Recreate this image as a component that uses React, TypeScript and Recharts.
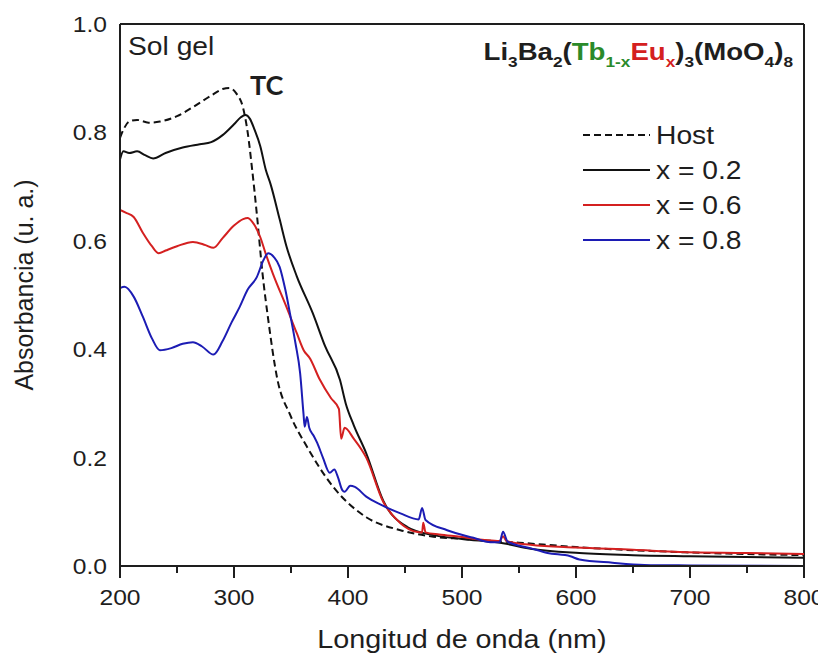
import React from 'react';
import { LineChart, Line, XAxis, YAxis, ReferenceLine, Legend, Label } from 'recharts';

// longitudes de onda (nm) y absorbancias
const hostWl = [200, 203, 208, 215, 225, 235, 250, 265, 280, 290, 296, 302, 308, 312, 316, 320, 325, 330, 338, 349, 364, 387, 416, 446, 475, 500, 550, 600, 700, 800];
const hostAbs = [0.79, 0.805, 0.82, 0.823, 0.818, 0.82, 0.83, 0.848, 0.868, 0.88, 0.882, 0.872, 0.845, 0.8, 0.73, 0.65, 0.54, 0.455, 0.345, 0.28, 0.22, 0.146, 0.09, 0.066, 0.054, 0.05, 0.043, 0.035, 0.025, 0.02];

const x02Wl = [200, 203, 208, 215, 222, 229, 240, 255, 270, 280, 290, 300, 306, 310, 314, 318, 323, 328, 332, 340, 346, 355, 369, 380, 393, 398, 405, 416, 431, 452, 475, 500, 536, 560, 603, 650, 700, 800];
const x02Abs = [0.75, 0.765, 0.762, 0.765, 0.758, 0.752, 0.762, 0.772, 0.778, 0.782, 0.795, 0.815, 0.828, 0.832, 0.825, 0.805, 0.775, 0.73, 0.705, 0.64, 0.59, 0.535, 0.467, 0.405, 0.343, 0.3, 0.26, 0.208, 0.12, 0.072, 0.057, 0.05, 0.042, 0.032, 0.024, 0.02, 0.018, 0.015];

const x06Wl = [200, 205, 212, 220, 228, 234, 240, 250, 264, 275, 282, 290, 300, 308, 312, 316, 323, 328, 334, 346, 355, 362, 364, 366, 375, 385, 392, 394, 397, 405, 416, 431, 446, 460, 465, 466, 468, 480, 498, 520, 533, 536, 539, 560, 600, 650, 691, 750, 800];
const x06Abs = [0.657, 0.652, 0.644, 0.615, 0.59, 0.577, 0.582, 0.59, 0.598, 0.592, 0.587, 0.605, 0.628, 0.64, 0.642, 0.635, 0.607, 0.575, 0.54, 0.478, 0.43, 0.395, 0.39, 0.385, 0.345, 0.31, 0.29, 0.235, 0.255, 0.235, 0.2, 0.118, 0.079, 0.063, 0.062, 0.08, 0.062, 0.058, 0.054, 0.048, 0.046, 0.055, 0.046, 0.039, 0.034, 0.03, 0.026, 0.024, 0.022];

const x08Wl = [200, 204, 212, 220, 228, 235, 245, 255, 264, 272, 282, 290, 298, 305, 312, 320, 326, 330, 335, 340, 345, 349, 354, 358, 361, 362, 364, 366, 370, 373, 378, 384, 388, 391, 395, 397, 402, 406, 416, 430, 446, 462, 465, 468, 487, 510, 525, 533, 536, 540, 560, 575, 595, 603, 632, 660, 700, 800];
const x08Abs = [0.513, 0.515, 0.497, 0.46, 0.42, 0.398, 0.402, 0.41, 0.413, 0.405, 0.39, 0.415, 0.45, 0.478, 0.51, 0.533, 0.565, 0.577, 0.57, 0.552, 0.51, 0.467, 0.41, 0.356, 0.28, 0.257, 0.275, 0.255, 0.24, 0.227, 0.2, 0.172, 0.178, 0.165, 0.14, 0.137, 0.148, 0.146, 0.128, 0.112, 0.097, 0.086, 0.107, 0.085, 0.066, 0.052, 0.044, 0.044, 0.063, 0.045, 0.033, 0.024, 0.018, 0.012, 0.006, 0.002, 0.001, 0];

const xTicks = [200, 250, 300, 350, 400, 450, 500, 550, 600, 650, 700, 750, 800];
const yTicks = [0, 0.2, 0.4, 0.6, 0.8, 1.0];

const toPts = (wl: number[], abs: number[]) => wl.map((w, i) => ({ wl: w, abs: abs[i] }));

const series = [
  { name: 'Host', data: toPts(hostWl, hostAbs), color: '#111111', dash: '7 4' },
  { name: 'x = 0.2', data: toPts(x02Wl, x02Abs), color: '#111111', dash: undefined },
  { name: 'x = 0.6', data: toPts(x06Wl, x06Abs), color: '#d42020', dash: undefined },
  { name: 'x = 0.8', data: toPts(x08Wl, x08Abs), color: '#1c1cb4', dash: undefined },
];

const FONT = 'Arial, "Liberation Sans", sans-serif';
const INK = '#1e1e1e';

const XTick = (props: any) => {
  const { x, y, payload } = props;
  const major = payload.value % 100 === 0;
  return (
    <g>
      <line x1={x} x2={x} y1={y} y2={y + (major ? 12 : 7)} stroke={INK} strokeWidth={2} />
      {major && (
        <text transform={`translate(${x},${y + 39}) scale(1.12,1)`} textAnchor="middle" fontSize={22} fontFamily={FONT} fill={INK}>
          {payload.value}
        </text>
      )}
    </g>
  );
};

const YTick = (props: any) => {
  const { x, y, payload } = props;
  return (
    <text transform={`translate(${x - 13},${y + 8}) scale(1.12,1)`} textAnchor="end" fontSize={22} fontFamily={FONT} fill={INK}>
      {Number(payload.value).toFixed(1)}
    </text>
  );
};

// leyenda propia: linea + texto
const LegendBox = () => (
  <svg width={210} height={140}>
    {series.map((s, i) => {
      const cy = 17 + i * 35;
      return (
        <g key={s.name}>
          <line x1={0} x2={67} y1={cy} y2={cy} stroke={s.color} strokeWidth={2} strokeDasharray={s.dash} />
          <text transform={`translate(73,${cy + 9}) scale(1.13,1)`} fontSize={25} fontFamily={FONT} fill={INK}>{s.name}</text>
        </g>
      );
    })}
  </svg>
);

export default function App() {
  return (
    <div style={{ position: 'relative', width: 818, height: 648 }}>
      <LineChart width={818} height={648} data={series[0].data} margin={{ top: 16, right: 22, bottom: 0, left: 0 }}>
        <XAxis
          dataKey="wl"
          type="number"
          domain={[200, 800]}
          ticks={xTicks}
          interval={0}
          height={90}
          tickSize={0}
          tickMargin={0}
          tickLine={false}
          tick={<XTick />}
          axisLine={{ stroke: INK, strokeWidth: 2 }}
          allowDataOverflow
        >
          <Label
            content={(p: any) => {
              const vb = p.viewBox || {};
              return (
                <text transform={`translate(${vb.x + vb.width / 2},${vb.y + 82}) scale(1.15,1)`} textAnchor="middle" fontSize={25} fontFamily={FONT} fill={INK}>
                  Longitud de onda (nm)
                </text>
              );
            }}
          />
        </XAxis>
        <YAxis
          type="number"
          domain={[0, 1]}
          ticks={yTicks}
          interval={0}
          width={112}
          tickSize={0}
          tickMargin={0}
          tickLine={false}
          tick={<YTick />}
          axisLine={{ stroke: INK, strokeWidth: 2 }}
          allowDataOverflow
        >
          <Label
            content={() => (
              <text transform="translate(25,277) rotate(-90)" textAnchor="middle" fontSize={25} fontFamily={FONT} fill={INK}>
                Absorbancia (u. a.)
              </text>
            )}
          />
        </YAxis>
        <ReferenceLine y={1} stroke={INK} strokeWidth={2} />
        <ReferenceLine x={800} stroke={INK} strokeWidth={2} />
        <Legend
          layout="horizontal"
          verticalAlign="middle"
          align="center"
          content={() => <LegendBox />}
          wrapperStyle={{ left: 575, top: 110, width: 210, height: 140 }}
        />
        {series.map(s => (
          <Line
            key={s.name}
            data={s.data}
            dataKey="abs"
            name={s.name}
            type="monotone"
            stroke={s.color}
            strokeWidth={2}
            strokeDasharray={s.dash}
            dot={false}
            activeDot={false}
            isAnimationActive={false}
          />
        ))}
      </LineChart>
      <svg width={818} height={648} style={{ position: 'absolute', left: 0, top: 0, pointerEvents: 'none' }}>
        <text transform="translate(120,47) scale(1.13,1)" fontSize={25} fontFamily={FONT} fill={INK}>Sol gel</text>
        <text x={242} y={87} fontSize={27} fontWeight="bold" fontFamily="Lato, 'Open Sans', sans-serif" fill={INK}>TC</text>
        <text transform="translate(785,52) scale(1.15,1)" textAnchor="end" fontSize={24} fontWeight="bold" fontFamily={FONT} fill={INK}>
          Li<tspan fontSize={15} dy={7}>3</tspan>
          <tspan dy={-7}>Ba</tspan><tspan fontSize={15} dy={7}>2</tspan>
          <tspan dy={-7}>(</tspan>
          <tspan fill="#2a8a2a">Tb</tspan><tspan fill="#2a8a2a" fontSize={15} dy={7}>1-x</tspan>
          <tspan fill="#d42020" dy={-7}>Eu</tspan><tspan fill="#d42020" fontSize={15} dy={7}>x</tspan>
          <tspan dy={-7}>)</tspan><tspan fontSize={15} dy={7}>3</tspan>
          <tspan dy={-7}>(MoO</tspan><tspan fontSize={15} dy={7}>4</tspan>
          <tspan dy={-7}>)</tspan><tspan fontSize={15} dy={7}>8</tspan>
        </text>
      </svg>
    </div>
  );
}
